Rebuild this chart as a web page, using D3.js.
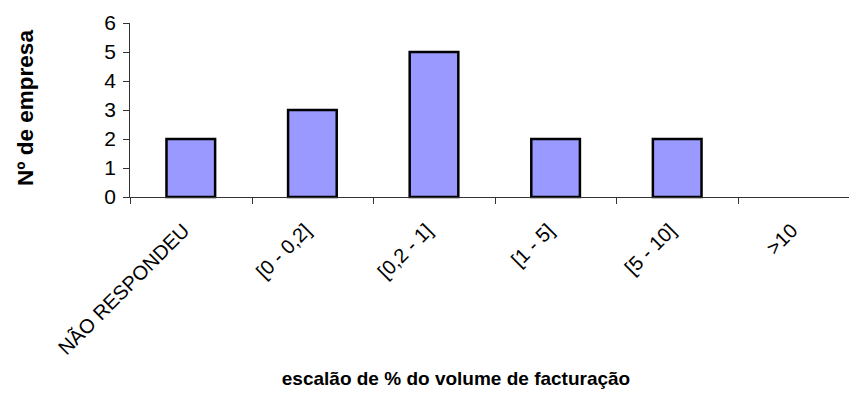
<!DOCTYPE html>
<html>
<head>
<meta charset="utf-8">
<script src="https://cdn.jsdelivr.net/npm/d3@7"></script>
<style>
  html, body { margin: 0; padding: 0; background: #fff; }
  svg { display: block; font-family: "Liberation Sans", Arial, sans-serif; }
</style>
</head>
<body>
<svg id="chart" width="849" height="394"></svg>
<script>
// Number of companies per turnover-percentage bracket
const categories = ["NÃO RESPONDEU", "[0 - 0,2]", "[0,2 - 1]", "[1 - 5]", "[5 - 10]", ">10"];
const companies = [2, 3, 5, 2, 2, 0];
const yTicks = [0, 1, 2, 3, 4, 5, 6];
const yTitle = "Nº de empresa";
const xTitle = "escalão de % do volume de facturação";

const svg = d3.select("#chart");
const plot = { left: 130, right: 859.6, top: 23, bottom: 197 };

const x = d3.scaleBand().domain(categories).range([plot.left, plot.right]).padding(0);
const y = d3.scaleLinear().domain([0, 6]).range([plot.bottom, plot.top]);

// Bars
const barW = x.bandwidth() * 0.4;
svg.append("g").selectAll("rect").data(companies).join("rect")
  .attr("x", (d, i) => x(categories[i]) + (x.bandwidth() - barW) / 2)
  .attr("y", d => y(d))
  .attr("width", barW)
  .attr("height", d => y(0) - y(d))
  .attr("fill", "#9999ff")
  .attr("stroke", "#000")
  .attr("stroke-width", 2.5);

// Y axis
const yAxis = svg.append("g").attr("transform", `translate(${plot.left},0)`)
  .call(d3.axisLeft(y).tickValues(yTicks).tickFormat(d3.format("d")).tickSize(7).tickPadding(7));
yAxis.select(".domain").attr("stroke", "#333").attr("d", `M-0.5,${plot.top}V${plot.bottom}`);
yAxis.selectAll(".tick line").attr("stroke", "#333");
yAxis.selectAll(".tick text").attr("font-size", 21).attr("fill", "#000")
  .attr("font-family", "Liberation Sans, Arial, sans-serif");

// X axis
const xAxis = svg.append("g").attr("transform", `translate(0,${plot.bottom})`)
  .call(d3.axisBottom(x).tickSize(0).tickFormat(""));
xAxis.select(".domain").attr("stroke", "#333").attr("d", `M${plot.left},0.5H${plot.right}`);
xAxis.selectAll(".tick").remove();
// tick marks at the band boundaries
const bounds = categories.map(c => x(c)).concat([plot.right]);
xAxis.selectAll("line.sep").data(bounds).join("line")
  .attr("class", "sep")
  .attr("x1", d => Math.round(d) + 0.5).attr("x2", d => Math.round(d) + 0.5)
  .attr("y1", 0).attr("y2", 7)
  .attr("stroke", "#333");

// Rotated category labels
svg.append("g").selectAll("text").data(categories).join("text")
  .attr("transform", c => `translate(${x(c) + x.bandwidth() / 2 - 5},${plot.bottom + 30}) rotate(-45)`)
  .attr("text-anchor", "end")
  .attr("dy", "0.35em")
  .attr("font-size", 20)
  .text(c => c);

// Axis titles
svg.append("text")
  .attr("transform", `translate(33,108) rotate(-90)`)
  .attr("text-anchor", "middle")
  .attr("font-size", 22.5).attr("font-weight", "bold")
  .text(yTitle);

svg.append("text")
  .attr("x", 456).attr("y", 385)
  .attr("text-anchor", "middle")
  .attr("font-size", 19).attr("font-weight", "bold")
  .text(xTitle);
</script>
</body>
</html>
